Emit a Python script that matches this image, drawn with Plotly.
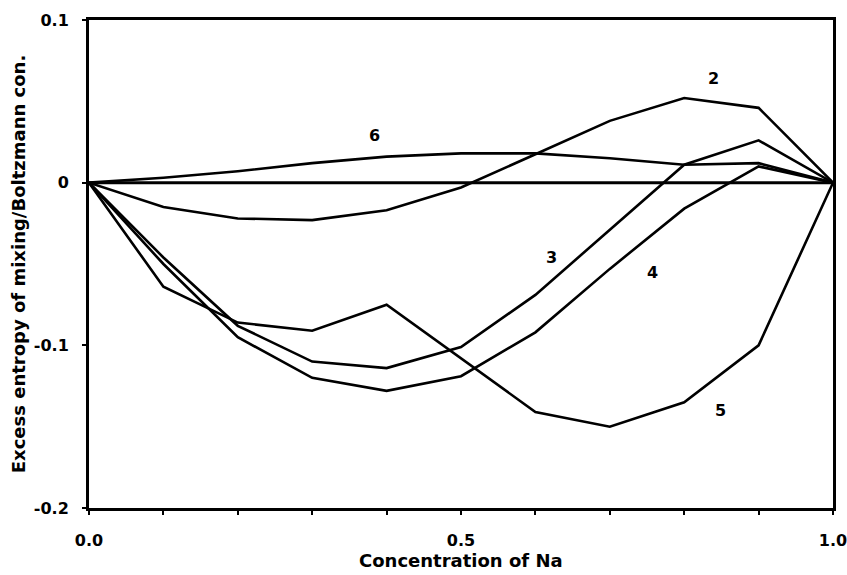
import plotly.graph_objects as go

# Concentration of Na (mole fraction)
conc = [0.0, 0.1, 0.2, 0.3, 0.4, 0.5, 0.6, 0.7, 0.8, 0.9, 1.0]

# Excess entropy of mixing / k_B for each model curve
curve_1 = [0.0] * 11
curve_2 = [0.0, -0.015, -0.022, -0.023, -0.017, -0.003, 0.0175, 0.038, 0.052, 0.046, 0.0]
curve_3 = [0.0, -0.046, -0.088, -0.110, -0.114, -0.101, -0.069, -0.029, 0.011, 0.026, 0.0]
curve_4 = [0.0, -0.050, -0.095, -0.120, -0.128, -0.119, -0.092, -0.053, -0.016, 0.010, 0.0]
curve_5 = [0.0, -0.064, -0.086, -0.091, -0.075, -0.108, -0.141, -0.150, -0.135, -0.100, 0.0]
curve_6 = [0.0, 0.003, 0.007, 0.012, 0.016, 0.018, 0.018, 0.015, 0.011, 0.012, 0.0]

# Curve labels and where they sit
label_text = ["2", "3", "4", "5", "6"]
label_x = [0.839, 0.621, 0.757, 0.849, 0.384]
label_y = [0.064, -0.046, -0.055, -0.140, 0.029]

x_tickvals = [0.0, 0.1, 0.2, 0.3, 0.4, 0.5, 0.6, 0.7, 0.8, 0.9, 1.0]
x_ticktext = ["0.0", "", "", "", "", "0.5", "", "", "", "", "1.0"]
y_tickvals = [-0.2, -0.1, 0.0, 0.1]
y_ticktext = ["-0.2", "-0.1", "0", "0.1"]

FONT = "DejaVu Sans"

fig = go.Figure()
fig.add_trace(go.Scatter(x=conc, y=curve_1, mode="lines",
                         line=dict(color="black", width=3), showlegend=False))
for ys in (curve_2, curve_3, curve_4, curve_5, curve_6):
    fig.add_trace(go.Scatter(x=conc, y=ys, mode="lines",
                             line=dict(color="black", width=2.6), showlegend=False))

for t, lx, ly in zip(label_text, label_x, label_y):
    fig.add_annotation(x=lx, y=ly, text=t, showarrow=False,
                       font=dict(family=FONT, size=16, color="black", weight="bold"))

# x-axis title placed below the tick labels
fig.add_annotation(x=0.5, y=-0.107, xref="paper", yref="paper",
                   xanchor="center", yanchor="middle", showarrow=False,
                   text="Concentration of Na",
                   font=dict(family=FONT, size=18, color="black", weight="bold"))

fig.update_layout(
    width=847, height=575,
    margin=dict(l=89, r=14, t=20, b=67, autoexpand=False),
    paper_bgcolor="white", plot_bgcolor="white",
    font=dict(family=FONT, color="black", weight="bold"),
    xaxis=dict(
        range=[0, 1], tickvals=x_tickvals, ticktext=x_ticktext,
        ticks="outside", ticklen=4, tickwidth=1.5, tickcolor="black",
        showline=True, linewidth=3, linecolor="black", mirror=True,
        showgrid=False, zeroline=False, automargin=False,
        tickfont=dict(family=FONT, size=16, weight="bold"),
        ticklabelstandoff=12, ticklabeloverflow="allow",
    ),
    yaxis=dict(
        range=[-0.2, 0.1], tickvals=y_tickvals, ticktext=y_ticktext,
        ticks="outside", ticklen=4, tickwidth=1.5, tickcolor="black",
        showline=True, linewidth=3, linecolor="black", mirror=True,
        showgrid=False, zeroline=False, automargin=False,
        tickfont=dict(family=FONT, size=16, weight="bold"),
        ticklabelstandoff=10,
        title=dict(text="Excess entropy of mixing/Boltzmann con.", standoff=4,
                   font=dict(family=FONT, size=18, weight="bold")),
    ),
)

fig.write_html("out.html")
